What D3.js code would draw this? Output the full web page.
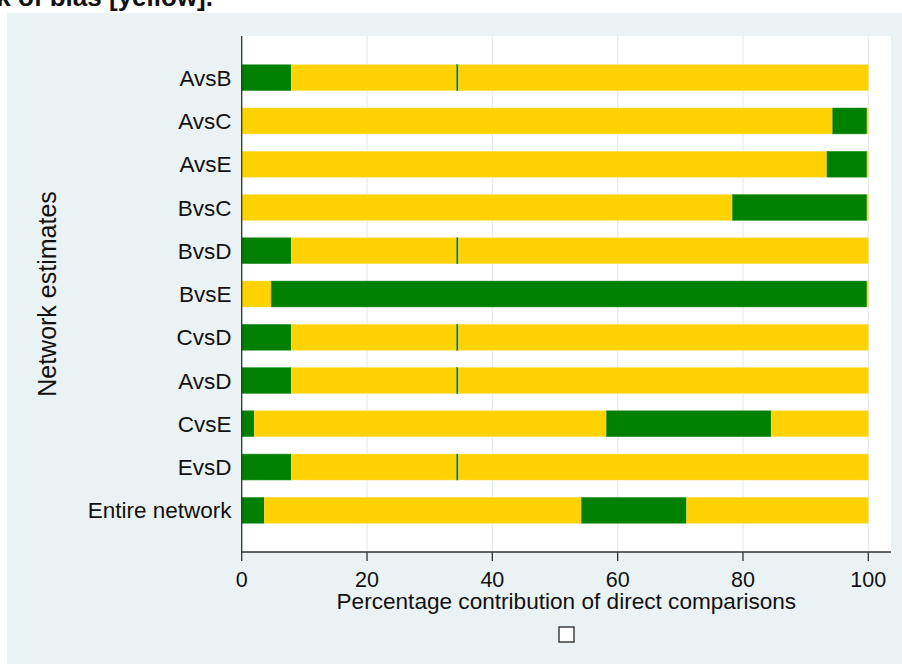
<!DOCTYPE html>
<html>
<head>
<meta charset="utf-8">
<script src="https://cdn.jsdelivr.net/npm/d3@7/dist/d3.min.js"></script>
<style>
  html, body { margin: 0; padding: 0; background: #ffffff; }
  svg { display: block; }
  text { font-family: "Liberation Sans", Arial, sans-serif; fill: #111111; }
</style>
</head>
<body>
<svg id="chart" width="902" height="664"></svg>
<script>
// ---- Data ----
const categories = ["AvsB","AvsC","AvsE","BvsC","BvsD","BvsE","CvsD","AvsD","CvsE","EvsD","Entire network"];
// stacked segments, in order: green, yellow, green, yellow (percent)
const green1  = [7.9, 0,    0,    0,    7.9,  0,    7.9,  7.9,  2.0,  7.9,  3.6];
const yellow1 = [26.4, 94.3, 93.4, 78.3, 26.4, 4.7,  26.4, 26.4, 56.2, 26.4, 50.6];
const green2  = [0.3, 5.5,  6.4,  21.5, 0.3,  95.1, 0.3,  0.3,  26.3, 0.3,  16.8];
const yellow2 = [65.4, 0.2,  0.2,  0.2,  65.4, 0.2,  65.4, 65.4, 15.5, 65.4, 29.0];
const segmentKeys = ["g1","y1","g2","y2"];
const segmentColors = {g1:"#008000", y1:"#ffd200", g2:"#008000", y2:"#ffd200"};
const xTicks = [0,20,40,60,80,100];
const xTitle = "Percentage contribution of direct comparisons";
const yTitle = "Network estimates";
const topCaption = "risk of bias [yellow].";

// ---- Build table ----
const rows = categories.map((c,i) => ({cat:c, g1:green1[i], y1:yellow1[i], g2:green2[i], y2:yellow2[i]}));

const svg = d3.select("#chart");

// top caption (clipped by the page edge, as in the reference)
svg.append("text").attr("x", 213).attr("y", 6).attr("text-anchor","end")
  .style("font-size","26px").style("font-weight","bold").text(topCaption);

// outer background
svg.append("rect").attr("x",7).attr("y",13).attr("width",902-7).attr("height",664-13).attr("fill","#eaf2f3");

const plot = {left:241.7, right:891, top:36, bottom:552};
svg.append("rect").attr("x",plot.left).attr("y",plot.top)
  .attr("width",plot.right-plot.left).attr("height",plot.bottom-plot.top).attr("fill","#ffffff");

const x = d3.scaleLinear().domain([0,100]).range([241.7, 868.3]);
const y = d3.scaleBand().domain(categories).range([plot.top, plot.bottom]).paddingInner(0.4).paddingOuter(0.664);

// gridlines
svg.append("g").selectAll("line").data(xTicks).join("line")
  .attr("x1", d=>x(d)).attr("x2", d=>x(d)).attr("y1", plot.top).attr("y2", plot.bottom)
  .attr("stroke","#e6eef1").attr("stroke-width",1.3);

// stacked bars
const stack = d3.stack().keys(segmentKeys)(rows);
svg.append("g").selectAll("g").data(stack).join("g")
  .attr("fill", d=>segmentColors[d.key])
  .attr("stroke", d=>segmentColors[d.key] === "#008000" ? "#3a9a3a" : "#ffe066")
  .attr("stroke-width",0.5)
  .selectAll("rect").data(d=>d.filter(s=>s[1]-s[0]>0)).join("rect")
  .attr("x", d=>x(d[0])).attr("width", d=>x(d[1])-x(d[0]))
  .attr("y", d=>y(d.data.cat)).attr("height", y.bandwidth());

// x axis
const xAxis = svg.append("g").attr("transform",`translate(0,${plot.bottom})`);
xAxis.append("line").attr("x1",plot.left).attr("x2",plot.right).attr("y1",0).attr("y2",0)
  .attr("stroke","#333").attr("stroke-width",1.3);
xAxis.selectAll("line.tick").data(xTicks).join("line").attr("class","tick")
  .attr("x1",d=>x(d)).attr("x2",d=>x(d)).attr("y1",0).attr("y2",9)
  .attr("stroke","#333").attr("stroke-width",1.3);
xAxis.selectAll("text").data(xTicks).join("text")
  .attr("x",d=>x(d)).attr("y",35).attr("text-anchor","middle")
  .style("font-size","21.5px").text(d=>d);

// y axis
svg.append("line").attr("x1",plot.left).attr("x2",plot.left).attr("y1",plot.top).attr("y2",plot.bottom)
  .attr("stroke","#333").attr("stroke-width",1.3);
svg.append("g").selectAll("text").data(categories).join("text")
  .attr("x",231.5).attr("y",d=>y(d)+y.bandwidth()/2).attr("dy","0.36em")
  .attr("text-anchor","end").style("font-size","22.5px").text(d=>d);

// titles
svg.append("text").attr("x",(plot.left+plot.right)/2).attr("y",609).attr("text-anchor","middle")
  .style("font-size","22.6px").text(xTitle);
svg.append("text").attr("transform",`translate(56,${(plot.top+plot.bottom)/2}) rotate(-90)`)
  .attr("text-anchor","middle").style("font-size","25px").text(yTitle);

// empty legend key
svg.append("rect").attr("x",559).attr("y",627).attr("width",15).attr("height",15)
  .attr("fill","#ffffff").attr("stroke","#333").attr("stroke-width",1.4);
</script>
</body>
</html>
